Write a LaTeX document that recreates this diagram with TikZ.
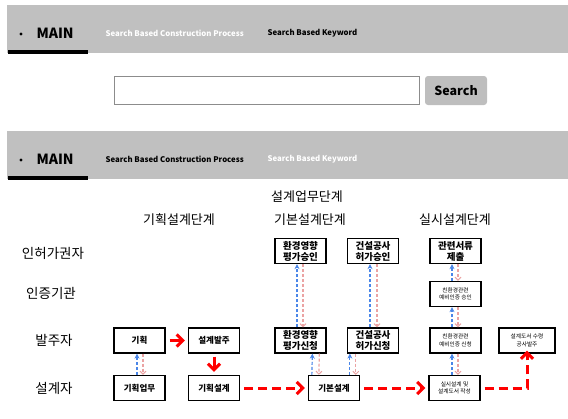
\documentclass[tikz,border=0pt]{standalone}
\usepackage{fontspec}
\setmainfont{Noto Sans CJK KR}
\usetikzlibrary{arrows.meta}
\definecolor{bargray}{HTML}{C0C0C0}
\definecolor{btngray}{HTML}{BEBEBE}
\definecolor{boxline}{HTML}{8C8C8C}
\definecolor{bluearr}{HTML}{4A86E8}
\definecolor{pinkarr}{HTML}{EBA3A3}
\definecolor{redarr}{HTML}{FF0000}
\tikzset{
  box/.style={draw=black, line width=1.3pt, fill=white, minimum width=51pt, minimum height=25pt, inner sep=1pt, align=center, font=\fontsize{8.5}{10}\selectfont\bfseries},
  bigbox/.style={box, font=\fontsize{9.5}{11}\selectfont\bfseries},
  tinybox/.style={box, font=\fontsize{5.7}{7.5}\selectfont},
  upar/.style={draw=bluearr, line width=1.2pt, dash pattern=on 3pt off 2pt, -{Stealth[length=5pt,width=5pt]}},
  downar/.style={draw=pinkarr, line width=1.2pt, dash pattern=on 3pt off 2pt, -{Straight Barb[length=3pt,width=6pt,line width=1pt]}},
  redflow/.style={draw=redarr, line width=3pt, -{Straight Barb[length=6pt,width=12pt]}},
  reddash/.style={redflow, dash pattern=on 9pt off 5pt},
  rowlabel/.style={font=\fontsize{13.5}{15}\selectfont},
  phase/.style={font=\fontsize{13}{15}\selectfont},
  navtext/.style={font=\fontsize{7.8}{9}\selectfont\bfseries, anchor=west},
  maintext/.style={font=\fontsize{14}{16}\selectfont\bfseries, anchor=west},
  dot/.style={fill=black, circle, inner sep=0pt, minimum size=3.2pt},
}
\begin{document}
\begin{tikzpicture}[x=1pt,y=-1pt]
\useasboundingbox (0,0) rectangle (568,418);
% top nav bar
\fill[bargray] (7,5) rectangle (568,53);
\fill[black] (8,50) rectangle (88,54);
\node[dot] (b1) at (21,34) {};
\node[maintext] (m1) at (33,33) {MAIN};
\node[navtext, text=white] (n1) at (102,33) {Search Based Construction Process};
\node[navtext] (n2) at (264,33) {Search Based Keyword};
% search
\node[draw=boxline, line width=0.8pt, minimum width=305pt, minimum height=28pt] (sbox) at (266.5,90.5) {};
\node[fill=btngray, rounded corners=3pt, minimum width=62pt, minimum height=29pt, font=\fontsize{12.5}{14}\selectfont\bfseries] (sbtn) at (456,90.5) {Search};
% second nav bar
\fill[bargray] (7,131) rectangle (568,179);
\fill[black] (8,176) rectangle (88,180);
\node[dot] (b2) at (21,160) {};
\node[maintext] (m2) at (33,159) {MAIN};
\node[navtext] (n3) at (102,159) {Search Based Construction Process};
\node[navtext, text=white] (n4) at (264,159) {Search Based Keyword};
% phase titles
\node[phase] (p0) at (307,197) {설계업무단계};
\node[phase] (p1) at (179,220) {기획설계단계};
\node[phase] (p2) at (310,220) {기본설계단계};
\node[phase] (p3) at (455,220) {실시설계단계};
% row labels
\node[rowlabel] (r1) at (53,253) {인허가권자};
\node[rowlabel] (r2) at (51,293) {인증기관};
\node[rowlabel] (r3) at (54,340) {발주자};
\node[rowlabel] (r4) at (54,388) {설계자};
% boxes
\node[box] (gh) at (139.5,340.5) {기획};
\node[box] (sb) at (214,340.5) {설계발주};
\node[box] (gu) at (139.5,388) {기획업무};
\node[box] (gs) at (214,388) {기획설계};
\node[bigbox] (hs) at (300.5,251) {환경영향\\평가승인};
\node[bigbox] (gsa) at (373,251) {건설공사\\허가승인};
\node[bigbox] (gr) at (455.5,251) {관련서류\\제출};
\node[tinybox] (ys) at (455.5,294) {친환경관련\\예비인증 승인};
\node[bigbox] (hp) at (300.5,340.5) {환경영향\\평가신청};
\node[bigbox] (gp) at (373,340.5) {건설공사\\허가신청};
\node[tinybox] (yp) at (455.5,340.5) {친환경관련\\예비인증 신청};
\node[tinybox, minimum width=56pt] (sd) at (527,340.5) {설계도서 수령\\공사발주};
\node[box] (gb) at (334,388) {기본설계};
\node[tinybox] (ss) at (454.5,388) {실시설계 및\\설계도서 작성};
% main red flow
\draw[redflow] ([xshift=4pt]gh.east) -- ([xshift=-3pt]sb.west);
\draw[redflow] ([yshift=-3pt]sb.south) -- ([yshift=3pt]gs.north);
\draw[reddash] ([xshift=4pt]gs.east) -- ([xshift=-3pt]gb.west);
\draw[reddash] ([xshift=4pt]gb.east) -- ([xshift=-3pt]ss.west);
\coordinate (turn) at (sd.south |- ss.east);
\draw[reddash] ([xshift=4pt]ss.east) -- (turn) -- ([yshift=3pt]sd.south);
% request / approval pairs
\draw[upar] ([xshift=-2.5pt]gu.north) -- ([xshift=-2.5pt]gh.south);
\draw[downar] ([xshift=3.5pt]gh.south) -- ([xshift=3.5pt]gu.north);
\draw[upar] ([xshift=4pt]gb.north west) -- ([xshift=38pt]hp.south west);
\draw[downar] ([xshift=45pt]hp.south west) -- ([xshift=11pt]gb.north west);
\draw[upar] ([xshift=42pt]gb.north west) -- ([xshift=3pt]gp.south west);
\draw[downar] ([xshift=9pt]gp.south west) -- ([xshift=48pt]gb.north west);
\draw[upar] ([xshift=-3.5pt]hp.north) -- ([xshift=-3.5pt]hs.south);
\draw[downar] ([xshift=2.5pt]hs.south) -- ([xshift=2.5pt]hp.north);
\draw[upar] ([xshift=-3pt]gp.north) -- ([xshift=-3pt]gsa.south);
\draw[downar] ([xshift=4pt]gsa.south) -- ([xshift=4pt]gp.north);
\draw[upar] ([xshift=-2.5pt]ss.north) -- ([xshift=-3.5pt]yp.south);
\draw[downar] ([xshift=2.5pt]yp.south) -- ([xshift=3.5pt]ss.north);
\draw[upar] ([xshift=-3.5pt]yp.north) -- ([xshift=-3.5pt]ys.south);
\draw[downar] ([xshift=2.5pt]ys.south) -- ([xshift=2.5pt]yp.north);
\draw[upar] ([xshift=-3.5pt]ys.north) -- ([xshift=-3.5pt]gr.south);
\draw[downar] ([xshift=2.5pt]gr.south) -- ([xshift=2.5pt]ys.north);
\end{tikzpicture}
\end{document}
